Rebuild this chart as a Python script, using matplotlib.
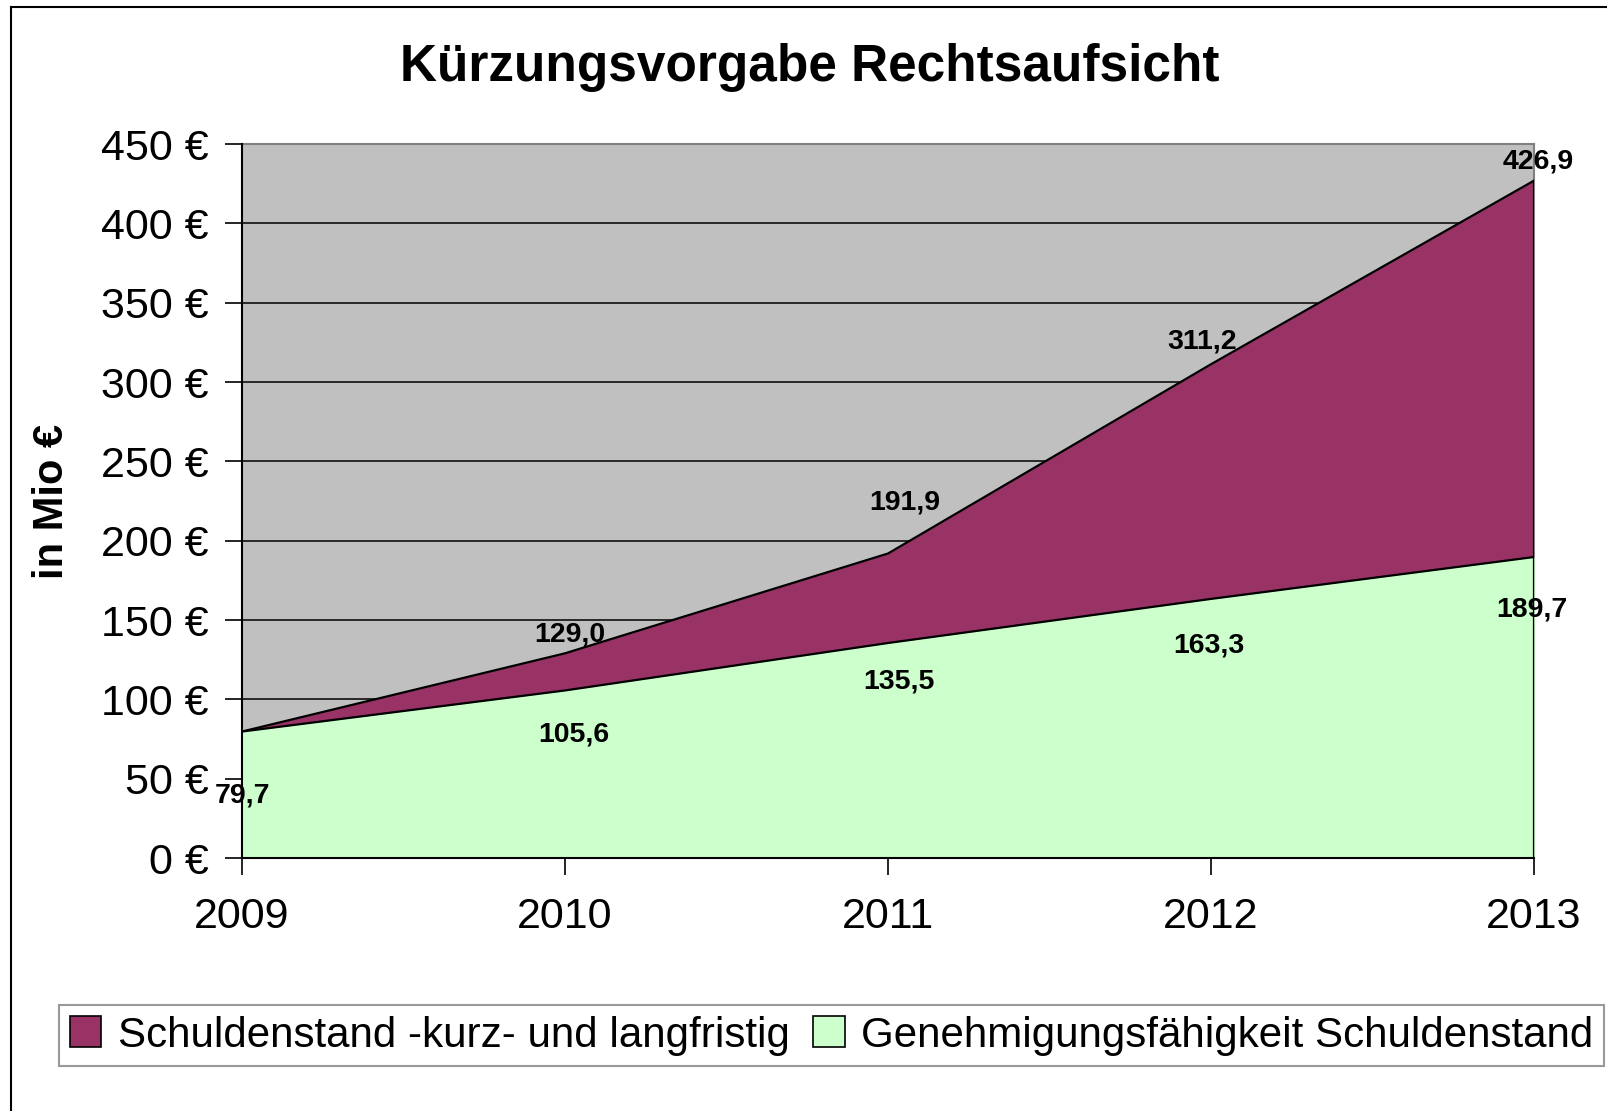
import matplotlib
matplotlib.use('Agg')
import matplotlib.pyplot as plt
from matplotlib.patches import Patch
from matplotlib.lines import Line2D

years = [2009, 2010, 2011, 2012, 2013]
schuldenstand = [79.7, 129.0, 191.9, 311.2, 426.9]
genehmigung = [79.7, 105.6, 135.5, 163.3, 189.7]
labels_schulden = ['', '129,0', '191,9', '311,2', '426,9']
labels_genehm = ['79,7', '105,6', '135,5', '163,3', '189,7']
yticks = [0, 50, 100, 150, 200, 250, 300, 350, 400, 450]

# label offsets in pixels (x, y), as placed in the original
off_schulden = [(0, 0), (5, 19), (17, 51), (-9, 23), (4, 19)]
off_genehm = [(1, -64), (9, -44), (11, -38), (-2, -47), (-2, -52)]

plt.rcParams['font.family'] = ['Liberation Sans', 'DejaVu Sans']

purple = '#993366'
green = '#CCFFCC'

fig = plt.figure(figsize=(16.08, 11.11), dpi=100)
ax = fig.add_axes([242/1608, 1-858/1111, (1534-242)/1608, (858-144)/1111])
ax.set_facecolor('#C0C0C0')

ax.fill_between(years, 0, schuldenstand, color=purple, zorder=2, lw=0)
ax.plot(years, schuldenstand, color='black', lw=1.6, zorder=3)
ax.fill_between(years, 0, genehmigung, color=green, zorder=4, lw=0)
ax.plot(years, genehmigung, color='black', lw=1.6, zorder=5)
ax.plot([years[-1], years[-1]], [0, schuldenstand[-1]], color='black', lw=1.6, zorder=6)

ax.set_xlim(years[0], years[-1])
ax.set_ylim(0, 450)
ax.set_yticks(yticks)
ax.set_yticklabels([f'{v} €' for v in yticks], fontsize=31)
ax.set_xticks(years)
ax.set_xticklabels([str(y) for y in years], fontsize=31)
ax.tick_params(axis='y', length=12, width=1.2, pad=12)
ax.tick_params(axis='x', length=12, width=1.2, pad=16)
ax.yaxis.grid(True, color='black', lw=1.1, zorder=1)
ax.set_axisbelow(True)
for s in ['top', 'right']:
    ax.spines[s].set_color('#808080')
    ax.spines[s].set_linewidth(1.5)
for s in ['left', 'bottom']:
    ax.spines[s].set_color('black')
    ax.spines[s].set_linewidth(1.5)
    ax.spines[s].set_zorder(7)

ax.set_ylabel('in Mio €', fontsize=30, fontweight='bold', labelpad=21)

for x, v, t, o in zip(years, schuldenstand, labels_schulden, off_schulden):
    if t:
        ax.annotate(t, (x, v), xytext=o, textcoords='offset pixels',
                    ha='center', va='center', fontsize=20.5, fontweight='bold', zorder=10)
for x, v, t, o in zip(years, genehmigung, labels_genehm, off_genehm):
    ax.annotate(t, (x, v), xytext=o, textcoords='offset pixels',
                ha='center', va='center', fontsize=20.5, fontweight='bold', zorder=10)

fig.text(810/1608, 1-68/1111, 'Kürzungsvorgabe Rechtsaufsicht', ha='center', va='center',
         fontsize=37, fontweight='bold')

# outer chart border (left and top visible)
fig.add_artist(Line2D([11/1608, 11/1608], [0, 1-7/1111], transform=fig.transFigure, color='black', lw=1.5))
fig.add_artist(Line2D([11/1608, 1], [1-7/1111, 1-7/1111], transform=fig.transFigure, color='black', lw=1.5))

handles = [Patch(facecolor=purple, edgecolor='black', lw=1.2),
           Patch(facecolor=green, edgecolor='black', lw=1.2)]
leg = fig.legend(handles, ['Schuldenstand -kurz- und langfristig', 'Genehmigungsfähigkeit Schuldenstand'],
                 loc='upper left', bbox_to_anchor=(59/1608, 1-1005/1111), ncol=2,
                 prop={'size': 30.3}, frameon=True, fancybox=False,
                 handlelength=0.75, handleheight=0.75, handletextpad=0.4, columnspacing=0.55,
                 borderpad=0.25, borderaxespad=0)
leg.get_frame().set_edgecolor('#808080')
leg.get_frame().set_linewidth(1.5)

fig.savefig('out.png', dpi=100)
